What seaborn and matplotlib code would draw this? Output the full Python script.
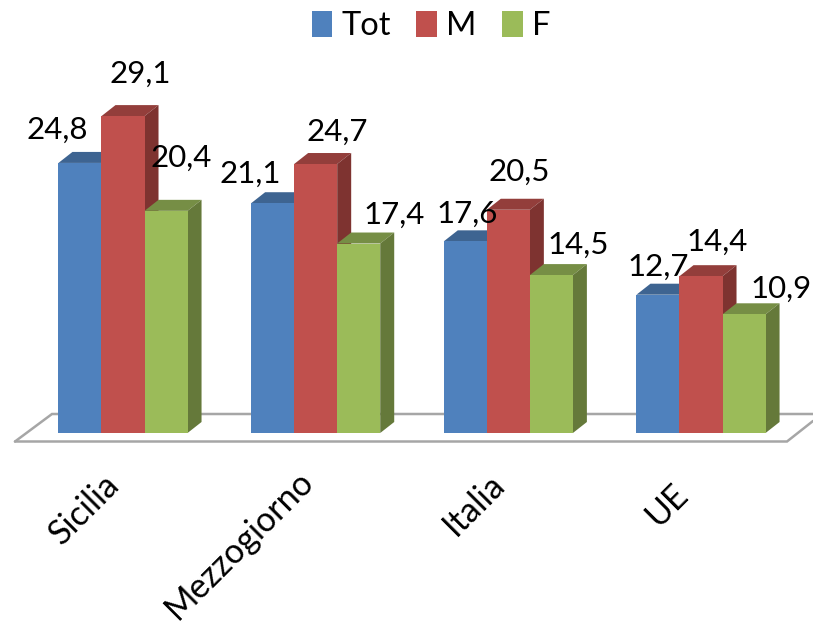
import pandas as pd
import matplotlib.pyplot as plt
import seaborn as sns
from matplotlib.patches import Patch, Polygon
from matplotlib.transforms import ScaledTranslation

# chart values
categories = ['Sicilia', 'Mezzogiorno', 'Italia', 'UE']
series_names = ['Tot', 'M', 'F']
tot_values = [24.8, 21.1, 17.6, 12.7]
m_values = [29.1, 24.7, 20.5, 14.4]
f_values = [20.4, 17.4, 14.5, 10.9]

# colours: front, top, side
front_colors = ['#4F81BD', '#C0504D', '#9BBB59']
top_colors = ['#3E6491', '#933E3B', '#768E45']
side_colors = ['#39597F', '#7E3330', '#65793A']

# label offsets from the top centre of each bar, in pixels (right, up)
label_offsets = [
    [(-23, 33), (-22, 29), (2, 28), (0, 28)],
    [(17, 42), (22, 32), (11, 38), (16, 34)],
    [(15, 53), (35, 29), (27, 30), (37, 26)],
]

W, H = 813, 628
DEPTH_X, DEPTH_Y = 14, 11  # px

df = pd.DataFrame({
    'category': categories * 3,
    'series': sum([[s] * 4 for s in series_names], []),
    'value': tot_values + m_values + f_values,
})

sns.set_theme(style='white')
plt.rcParams['font.family'] = ['Lato', 'DejaVu Sans']

fig = plt.figure(figsize=(W / 100, H / 100), dpi=100, facecolor='white')
# axes runs from the bar baseline to the top of the figure
ax = fig.add_axes([0, (H - 433) / H, 1, 433 / H])

sns.barplot(data=df, x='category', y='value', hue='series', hue_order=series_names,
            palette=front_colors, saturation=1, width=0.67, gap=0, legend=False, ax=ax)

ax.set_xlim(-123 / 192.67, (W - 123) / 192.67)
ax.set_ylim(0, 433 / 10.89)
ax.set_xlabel('')
ax.set_ylabel('')
ax.set_yticks([])
sns.despine(ax=ax, left=True, bottom=True)
ax.patch.set_alpha(0)


# floor of the 3d chart, in figure coordinates
def px(x, y):
    return x / W, 1 - y / H


floor = [[(15, 441.5), (52, 414), (813, 414)], [(15, 441.5), (787, 441.5), (813, 421)]]
for pts in floor:
    xs, ys = zip(*[px(x, y) for x, y in pts])
    ax.plot(xs, ys, color='#A6A6A6', lw=1.8, transform=fig.transFigure, clip_on=False, zorder=1,
            solid_joinstyle='miter')

# depth of the bars in data units
dx = DEPTH_X / 192.67
dy = DEPTH_Y / 10.89

for i, cont in enumerate(ax.containers):
    for j, bar in enumerate(cont):
        x0, w, h = bar.get_x(), bar.get_width(), bar.get_height()
        x1 = x0 + w
        bar.set_zorder(3 + 2 * i)
        bar.set_edgecolor('none')
        top = Polygon([(x0, h), (x1, h), (x1 + dx, h + dy), (x0 + dx, h + dy)],
                      facecolor=top_colors[i], edgecolor='none', zorder=2 + 2 * i)
        side = Polygon([(x1, 0), (x1 + dx, dy), (x1 + dx, h + dy), (x1, h)],
                       facecolor=side_colors[i], edgecolor='none', zorder=2 + 2 * i)
        ax.add_patch(top)
        ax.add_patch(side)
        ax.annotate(f'{h:.1f}'.replace('.', ','), (x0 + w / 2, h), xytext=label_offsets[i][j],
                    textcoords='offset pixels', ha='center', va='center', fontsize=22.5,
                    color='black', zorder=20, annotation_clip=False)

ax.tick_params(axis='x', length=0, pad=0)
ax.set_xticks(range(4))
ax.set_xticklabels(categories, rotation=45, ha='right', va='top', rotation_mode='anchor',
                   fontsize=24.5, color='black')
# shift labels to where the reference has them
shifts = [(-20, -35), (-19, -32), (-20, -35), (-30, -45)]
for lab, (sx, sy) in zip(ax.get_xticklabels(), shifts):
    lab.set_transform(lab.get_transform() + ScaledTranslation(sx / 100, sy / 100, fig.dpi_scale_trans))

handles = [Patch(facecolor=c, edgecolor='none') for c in front_colors]
fig.legend(handles, series_names, ncol=3, loc='upper center', bbox_to_anchor=(0.53, 1.03),
           frameon=False, fontsize=23.5, handlelength=0.64, handleheight=0.85,
           handletextpad=0.28, columnspacing=0.77, labelcolor='black')

fig.savefig('out.png', dpi=100, facecolor='white')
